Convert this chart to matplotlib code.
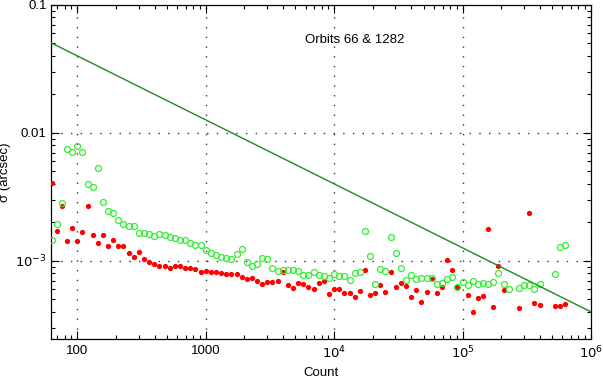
import numpy as np
import matplotlib
matplotlib.use("Agg")
import matplotlib.pyplot as plt
from matplotlib.ticker import FixedLocator, FixedFormatter, LogLocator, NullFormatter

# counts: 25 log-spaced bins per decade, 63 .. 6.3e5
counts = [
    63.1, 69.2, 75.9, 83.2, 91.2,
    100, 109.6, 120.2, 131.8, 144.5, 158.5, 173.8, 190.5, 208.9, 229.1,
    251.2, 275.4, 302.0, 331.1, 363.1, 398.1, 436.5, 478.6, 524.8, 575.4,
    631.0, 691.8, 758.6, 831.8, 912.0,
    1000, 1096, 1202, 1318, 1445, 1585, 1738, 1905, 2089, 2291,
    2512, 2754, 3020, 3311, 3631, 3981, 4365, 4786, 5248, 5754,
    6310, 6918, 7586, 8318, 9120,
    1.0e4, 1.096e4, 1.202e4, 1.318e4, 1.445e4, 1.585e4, 1.738e4, 1.905e4, 2.089e4, 2.291e4,
    2.512e4, 2.754e4, 3.020e4, 3.311e4, 3.631e4, 3.981e4, 4.365e4, 4.786e4, 5.248e4, 5.754e4,
    6.310e4, 6.918e4, 7.586e4, 8.318e4, 9.120e4,
    1.0e5, 1.096e5, 1.202e5, 1.318e5, 1.445e5, 1.585e5, 1.738e5, 1.905e5, 2.089e5, 2.291e5,
    2.512e5, 2.754e5, 3.020e5, 3.311e5, 3.631e5, 3.981e5, 4.365e5, 4.786e5, 5.248e5, 5.754e5,
    6.310e5,
]

nan = np.nan
# sigma in units of 1e-3 arcsec
sigma_open = [
    1.47, 1.93, 2.85, 7.51, 7.11, 7.92, 7.15, 3.98, 3.77, 5.34,
    2.87, 2.47, 2.35, 2.09, 1.96, 1.87, 1.89, 1.65, 1.64, 1.61,
    1.56, 1.61, 1.59, 1.53, 1.52, 1.45, 1.46, 1.37, 1.33, 1.33,
    1.21, 1.15, 1.12, 1.08, 1.06, 1.03, 1.13, 1.23, 0.977, 0.909,
    0.943, 1.06, 1.04, 0.877, 0.831, 0.842, 0.842, 0.846, 0.827, 0.778,
    0.778, 0.817, 0.778, 0.760, 0.737, 0.784, 0.756, 0.756, 0.707, 0.802,
    0.821, 1.70, 1.09, 0.662, 0.862, 0.831, 1.53, 1.16, 0.873, 0.707,
    0.770, 0.716, 0.742, 0.742, 0.737, 0.662, 0.676, 0.724, 0.746, 0.621,
    0.679, 0.650, 0.699, 0.658, 0.674, 0.662, 0.686, 0.798, 0.658, 0.605,
    nan, 0.610, 0.643, 0.647, 0.605, 0.658, nan, nan, 0.788, 1.29,
    1.32,
]
sigma_filled = [
    4.08, 1.71, 2.67, 1.42, 1.82, 1.43, 1.68, 2.68, 1.58, 1.38,
    1.58, 1.30, 1.46, 1.30, 1.30, 1.15, 1.07, 1.17, 1.03, 0.977,
    0.943, 0.914, 0.914, 0.882, 0.909, 0.909, 0.882, 0.882, 0.862, 0.821,
    0.836, 0.821, 0.812, 0.798, 0.792, 0.792, 0.792, 0.751, 0.716, 0.729,
    0.691, 0.662, 0.679, 0.682, 0.699, 0.812, 0.643, 0.616, 0.670, 0.655,
    0.621, 0.602, 0.670, 0.699, 0.553, 0.599, 0.605, 0.557, 0.557, 0.519,
    0.578, 0.842, 0.541, 0.560, 0.647, 0.567, 0.821, 0.624, 0.674, 0.635,
    0.522, 0.588, 0.474, 0.571, 0.720, 0.557, 0.624, 1.01, 0.842, 0.621,
    nan, 0.543, 0.401, 0.512, 0.528, 1.79, 0.436, 0.914, 0.588, nan,
    nan, 0.432, nan, 2.38, 0.466, 0.452, nan, nan, 0.441, 0.441,
    0.460,
]

# reference sigma ~ 1/sqrt(N) line
line_counts = [63, 1.0e6]
line_sigma = [0.0504, 0.0004]

plt.rcParams["font.family"] = ["Liberation Sans", "DejaVu Sans"]

fig = plt.figure(figsize=(6.03, 3.81), dpi=100)
ax = fig.add_axes([0.0854, 0.110, 0.8946, 0.877])

x = np.array(counts)
ax.plot(x, np.array(sigma_filled) * 1e-3, "o", color="#ff0000", ms=3.8, mew=0, zorder=3)
ax.plot(x, np.array(sigma_open) * 1e-3, "o", mfc="none", mec="#33ee33", ms=4.3, mew=0.9, zorder=4)
ax.plot(line_counts, line_sigma, "-", color="#1e8c1e", lw=1.0, zorder=5)

ax.set_xscale("log")
ax.set_yscale("log")
ax.set_xlim(63, 1.0e6)
ax.set_ylim(2.45e-4, 0.1)

xt = [100, 1000, 1e4, 1e5, 1e6]
ax.xaxis.set_major_locator(FixedLocator(xt))
ax.xaxis.set_major_formatter(FixedFormatter(["100", "1000", r"$10^4$", r"$10^5$", r"$10^6$"]))
yt = [1e-3, 1e-2, 0.1]
ax.yaxis.set_major_locator(FixedLocator(yt))
ax.yaxis.set_major_formatter(FixedFormatter([r"$10^{-3}$", "0.01", "0.1"]))
for axis in (ax.xaxis, ax.yaxis):
    axis.set_minor_locator(LogLocator(base=10, subs=np.arange(2, 10), numticks=20))
    axis.set_minor_formatter(NullFormatter())

ax.tick_params(which="both", direction="in", top=True, right=True, labelsize=9.5, colors="black")
ax.tick_params(which="major", length=6, width=0.8)
ax.tick_params(which="minor", length=3, width=0.8)
ax.tick_params(axis="x", pad=4)

for v in [100, 1000, 1e4, 1e5]:
    ax.axvline(v, color="#333333", lw=1.0, ls=(0, (1, 6)), zorder=1)
for v in [1e-3, 1e-2]:
    ax.axhline(v, color="#333333", lw=1.0, ls=(0, (1, 6)), zorder=1)

for s in ax.spines.values():
    s.set_linewidth(0.9)

ax.text(0.5626, 0.895, "Orbits 66 & 1282", transform=ax.transAxes,
        ha="center", va="center", fontsize=9.5)
ax.set_xlabel("Count", fontsize=9.5, labelpad=4)
ax.set_ylabel("σ (arcsec)", fontsize=9.5, labelpad=3)

fig.savefig("out.png", dpi=100)
